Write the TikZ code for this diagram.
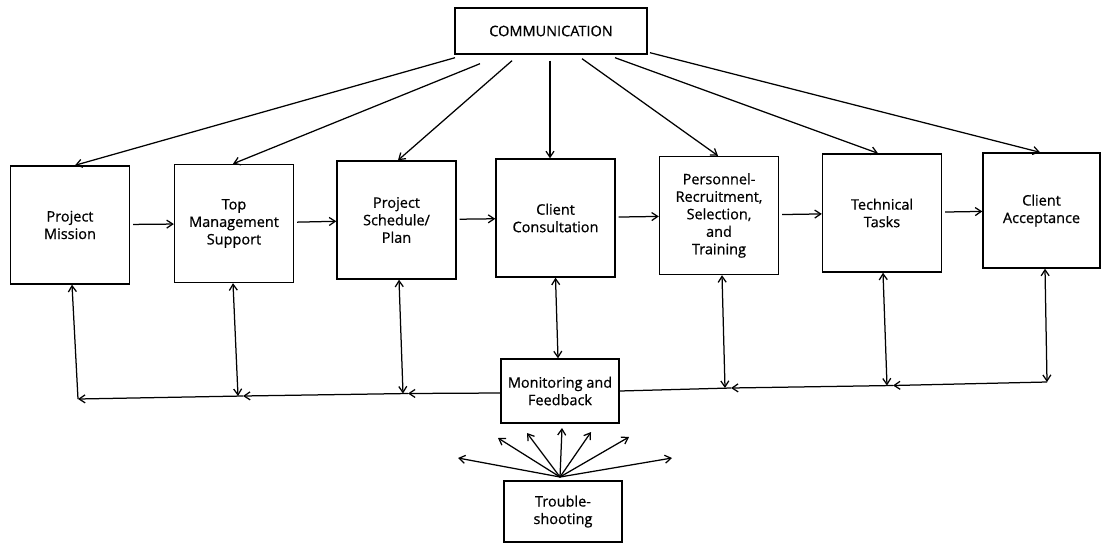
\documentclass[tikz,border=0pt]{standalone}
\usepackage{fontspec}
\setmainfont{Open Sans}
\newfontfamily\labelfont{Open Sans}[FakeBold=0.7]
\usetikzlibrary{arrows.meta}
\begin{document}
\begin{tikzpicture}[x=1pt,y=-1pt,
  line width=1.25pt,
  tip/.tip={Straight Barb[length=6pt,width=8pt,line width=1.25pt]},
  boxtext/.style={font=\labelfont\fontsize{14.5}{17.5}\selectfont},
  stage/.style={draw,line width=1.4pt,inner sep=0pt,align=center,
    minimum width=119pt,minimum height=118pt,boxtext},
  smallbox/.style={draw,line width=1.4pt,inner sep=0pt,align=center,boxtext},
  link/.style={-tip},
  twoway/.style={tip-tip}]
\useasboundingbox (0,0) rectangle (1102,544);

% top box
\node[smallbox,minimum width=192pt,minimum height=46pt] (com) at (551,31) {COMMUNICATION};

% row of stages
\node[stage] (mis) at (70,225)     {Project\\Mission};
\node[stage] (top) at (234,223.5)  {Top\\Management\\Support};
\node[stage] (sch) at (396.5,220)  {Project\\Schedule/\\Plan};
\node[stage] (con) at (555.5,218)  {Client\\Consultation};
\node[stage] (per) at (719,215.5)  {Personnel-\\Recruitment,\\Selection,\\and\\Training};
\node[stage] (tec) at (882,213)    {Technical\\Tasks};
\node[stage,minimum width=117pt,minimum height=115pt] (acc) at (1041.5,210.5) {Client\\Acceptance};

% lower boxes
\node[smallbox,minimum width=118pt,minimum height=64pt] (mon) at (560,391) {Monitoring and\\Feedback};
\node[smallbox,minimum width=118pt,minimum height=61pt] (tro) at (563,511.5) {Trouble-\\shooting};

% communication fan-out
\draw[link] ([shift={(-96,3)}]com.south) -- ([xshift=5pt]mis.north);
\draw[link] ([shift={(-71,9)}]com.south) -- ([xshift=-1pt]top.north);
\draw[link] ([shift={(-39,6)}]com.south) -- ([xshift=1.5pt]sch.north);
\draw[link] ([shift={(-1,6)}]com.south)  -- ([xshift=-5.5pt]con.north);
\draw[link] ([shift={(31,4)}]com.south)  -- ([xshift=-1pt]per.north);
\draw[link] ([shift={(64,3)}]com.south)  -- ([xshift=-4pt]tec.north);
\draw[link] ([shift={(99,-2)}]com.south) -- ([xshift=-1.5pt]acc.north);

% sequence of stages
\draw[link,shorten <=3pt] (mis) -- (top);
\draw[link,shorten <=3pt] (top) -- (sch);
\draw[link,shorten <=3pt] (sch) -- (con);
\draw[link,shorten <=3pt] (con) -- (per);
\draw[link,shorten <=3pt] (per) -- (tec);
\draw[link,shorten <=3pt] (tec) -- (acc);

% feedback bus junctions
\coordinate (j1) at (78,399);
\coordinate (a2) at (243,396);
\coordinate (j2) at (238,396);
\coordinate (a3) at (408,393.5);
\coordinate (j3) at (403,393.5);
\coordinate (j5) at (725,388);
\coordinate (a5) at (731,388);
\coordinate (j6) at (887,385.5);
\coordinate (a6) at (893,385.5);
\coordinate (j7) at (1047,382);

% feedback bus, left half
\draw[link] ([yshift=-2pt]mon.west) -- (a3);
\draw[link] (a3) -- (a2);
\draw[link] (a2) -- (j1);
% feedback bus, right half
\draw[link] (j7) -- (a6);
\draw[link] (a6) -- (a5);
\draw (a5) -- (mon.east);

% stage to bus verticals
\draw[link] (j1) -- ([xshift=2pt]mis.south);
\draw[twoway] ([xshift=-1pt]top.south) -- (j2);
\draw[twoway] ([xshift=2.5pt]sch.south) -- (j3);
\draw[twoway] (con.south) -- ([xshift=-2pt]mon.north);
\draw[twoway] ([xshift=3pt]per.south) -- (j5);
\draw[twoway] ([xshift=1pt]tec.south) -- (j6);
\draw[twoway] ([xshift=3.5pt]acc.south) -- (j7);

% troubleshooting fan
\coordinate (f0) at (560,477);
\coordinate (f1) at (458,458);
\coordinate (f2) at (498,438);
\coordinate (f3) at (527,433);
\coordinate (f4) at (562,428);
\coordinate (f5) at (591,432);
\coordinate (f6) at (629,437);
\coordinate (f7) at (672,458);
\foreach \k in {1,...,7} \draw[link] (f0) -- (f\k);
\end{tikzpicture}
\end{document}
